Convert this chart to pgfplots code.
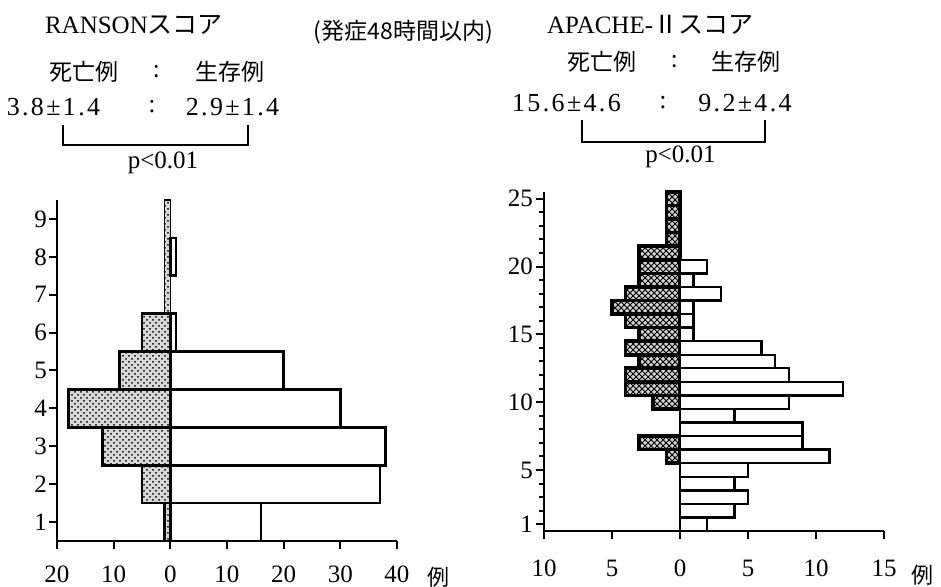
\documentclass[border=0pt]{standalone}
\usepackage{pgfplots}
\pgfplotsset{compat=1.18}
\usepackage{fontspec}
\setmainfont{Liberation Serif}
\newfontfamily\jp{Noto Sans CJK JP}
\newfontfamily\numfont[LetterSpace=9]{Liberation Serif}
\usetikzlibrary{patterns}

\pgfplotsset{
  myaxis/.style={
    scale only axis,
    anchor=south west,
    axis lines=left,
    axis line style={-, line width=1.4pt, black},
    tick align=outside,
    major tick length=4pt,
    minor tick length=2.5pt,
    tick style={line width=1pt, black},
    ticklabel style={font=\fontsize{12.5}{14}\selectfont},
    /pgf/number format/assume math mode=true,
    clip=false,
  },
  surv/.style={xbar, bar width=1, bar shift=0pt, draw=black, line width=1.3pt, fill=white},
  deadL/.style={xbar, bar width=1, bar shift=0pt, draw=black, line width=1.3pt, fill=gray!30, postaction={pattern=crosshatch dots}},
  deadR/.style={xbar, bar width=1, bar shift=0pt, draw=black, line width=1.8pt, fill=gray!35, postaction={pattern=crosshatch}},
}

\begin{document}
\begin{tikzpicture}
\path[use as bounding box] (0pt,0pt) rectangle (470.5pt,293.5pt);

% ---------- left: RANSON ----------
\begin{axis}[myaxis,
  at={(28.5pt,23pt)}, width=170pt, height=170.5pt,
  xmin=-20, xmax=40, ymin=0.5, ymax=9.5,
  xtick={-20,-10,0,10,20,30,40}, xticklabels={20,10,0,10,20,30,40},
  ytick={1,...,9},
  xticklabel style={yshift=-5pt},
  yticklabel style={xshift=2.5pt},
]
% central strip
\addplot[draw=black, line width=0.6pt, fill=gray!30, postaction={pattern=crosshatch dots}]
  coordinates {(-1,0.5) (0,0.5) (0,9.5) (-1,9.5) (-1,0.5)};
% deaths
\addplot[deadL] coordinates {(-1,1) (-5,2) (-12,3) (-18,4) (-9,5) (-5,6)};
% survivors
\addplot[surv] coordinates {(16,1) (37,2) (38,3) (30,4) (20,5) (1,6) (1,8)};
\end{axis}

% ---------- right: APACHE-II ----------
\begin{axis}[myaxis,
  at={(272pt,28pt)}, width=170pt, height=169.5pt,
  xmin=-10, xmax=15, ymin=0.5, ymax=25.5,
  xtick={-10,-5,0,5,10,15}, xticklabels={10,5,0,5,10,15},
  ytick={1,5,10,15,20,25},
  minor ytick={1,...,25},
  xticklabel style={yshift=-7pt},
  yticklabel style={xshift=2pt},
]
\addplot[deadR] coordinates {(-1,6) (-3,7) (-2,10) (-4,11) (-4,12) (-3,13) (-4,14)
  (-3,15) (-4,16) (-5,17) (-4,18) (-3,19) (-3,20) (-3,21) (-1,22) (-1,23) (-1,24) (-1,25)};
\addplot[surv, line width=1.2pt] coordinates {(2,1) (4,2) (5,3) (4,4) (5,5) (11,6) (9,7) (9,8)
  (4,9) (8,10) (12,11) (8,12) (7,13) (6,14) (1,15) (1,16) (1,17) (3,18) (1,19) (2,20)};
\end{axis}

% ---------- texts ----------
\node[font=\fontsize{12.5}{14}\selectfont, anchor=west] at (19pt,281pt) {RANSON{\jp スコア}};
\node[font=\jp\fontsize{11.5}{13}\selectfont] at (201.75pt,277.5pt) {(発症48時間以内)};
\node[font=\fontsize{12.5}{14}\selectfont, anchor=west] at (270pt,281pt) {APACHE-{\jp Ⅱスコア}};

\begin{scope}[every node/.style={font=\jp\fontsize{11.5}{13}\selectfont}]
\node at (42pt,257.5pt) {死亡例};
\node at (78.5pt,257.5pt) {:};
\node at (115pt,257.5pt) {生存例};
\node at (301pt,262.5pt) {死亡例};
\node at (337.5pt,262.5pt) {:};
\node at (372.75pt,262.5pt) {生存例};
\end{scope}

\begin{scope}[every node/.style={font=\numfont\fontsize{13}{15}\selectfont}]
\node at (26.75pt,240pt) {3.8±1.4};
\node at (76pt,240pt) {:};
\node at (116.25pt,240pt) {2.9±1.4};
\node at (283.25pt,242pt) {15.6±4.6};
\node at (331.5pt,242pt) {:};
\node at (372.5pt,242pt) {9.2±4.4};
\end{scope}
\begin{scope}[every node/.style={font=\fontsize{12.5}{14}\selectfont}]
\node at (81.5pt,212pt) {p<0.01};
\node at (340.25pt,215pt) {p<0.01};
\end{scope}

\draw[line width=1.3pt] (31.5pt,231pt) -- (31.5pt,221pt) -- (124pt,221pt) -- (124pt,231pt);
\draw[line width=1.3pt] (291pt,233.5pt) -- (291pt,222.5pt) -- (382.5pt,222.5pt) -- (382.5pt,233.5pt);

\node[font=\jp\fontsize{11}{13}\selectfont] at (219pt,5pt) {例};
\node[font=\jp\fontsize{11}{13}\selectfont] at (461.25pt,6pt) {例};
\end{tikzpicture}
\end{document}
